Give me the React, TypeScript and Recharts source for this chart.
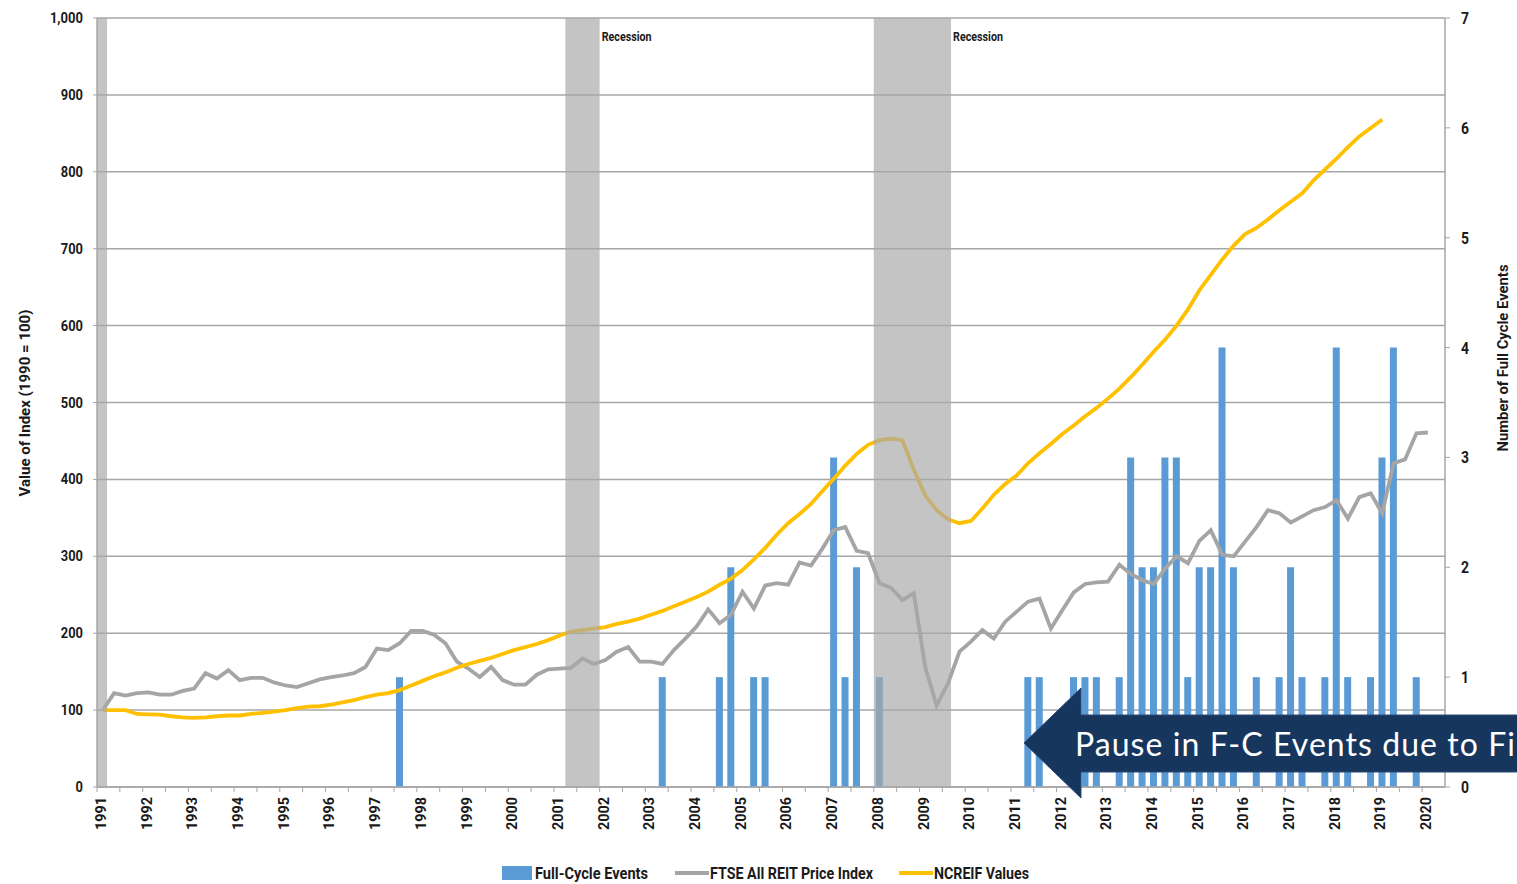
import React from 'react';
import {
  ComposedChart,
  Bar,
  Line,
  XAxis,
  YAxis,
  CartesianGrid,
  ReferenceArea,
} from 'recharts';

// quarterly series, index 0 = 1991 Q1
const FIRST_YEAR = 1991;
const QUARTER_SLOTS = 118;

const ftseValues = [
  100, 122, 119, 122, 123, 120, 120, 125, 128, 148, 141, 152, 139, 142, 142, 136,
  132, 130, 135, 140, 143, 145, 148, 156, 180, 178, 187, 203, 203, 198, 187, 163,
  154, 143, 156, 139, 133, 133, 146, 153, 154, 155, 167, 160, 165, 176, 182, 163,
  163, 160, 178, 193, 209, 231, 213, 224, 254, 232, 262, 265, 263, 292, 288, 310,
  334, 338, 307, 304, 265, 259, 243, 252, 156, 106, 135, 176, 189, 204, 193, 215,
  228, 241, 245, 206, 230, 253, 264, 266, 267, 289, 277, 269, 264, 284, 300, 291,
  320, 334, 302, 300, 319, 338, 360, 356, 344, 352, 360, 364, 373, 349, 377, 382,
  356, 421, 426, 460, 461,
];

const ncreifValues = [
  100, 100, 100, 95, 94.5, 94, 92, 90.5, 90, 90.5, 92, 93, 93, 95, 96.5, 98,
  100, 102.5, 104.5, 105, 107, 110, 113, 117, 120, 122, 126, 132, 138, 144, 149, 155,
  160, 164, 168, 173, 178, 182, 186, 191, 197, 202, 204, 206, 208, 212, 215, 219,
  224, 229, 235, 241, 247, 254, 263, 271, 282, 296, 311, 328, 343, 355, 368, 385,
  401, 418, 433, 445, 451, 453, 451, 413, 379, 360, 348, 343, 346, 362, 380, 394,
  405, 421, 434, 446, 459, 470, 482, 493, 505, 518, 533, 549, 566, 582, 600, 621,
  646, 666, 686, 704, 719, 727, 738, 750, 761, 772, 789, 803, 817, 832, 846, 857,
  868,
];

const eventQuarters = [
  '1997 Q3', '2003 Q2', '2004 Q3', '2004 Q4', '2005 Q2', '2005 Q3', '2007 Q1', '2007 Q2',
  '2007 Q3', '2008 Q1', '2011 Q2', '2011 Q3', '2012 Q2', '2012 Q3', '2012 Q4', '2013 Q2',
  '2013 Q3', '2013 Q4', '2014 Q1', '2014 Q2', '2014 Q3', '2014 Q4', '2015 Q1', '2015 Q2',
  '2015 Q3', '2015 Q4', '2016 Q2', '2016 Q4', '2017 Q1', '2017 Q2', '2017 Q4', '2018 Q1',
  '2018 Q2', '2018 Q4', '2019 Q1', '2019 Q2', '2019 Q4',
];
const eventCounts = [
  1, 1, 1, 2, 1, 1, 3, 1,
  2, 1, 1, 1, 1, 1, 1, 1,
  3, 2, 2, 3, 3, 1, 2, 2,
  4, 2, 1, 1, 2, 1, 1, 4,
  1, 1, 3, 4, 1,
];

// recessions as decimal years
const recessionStarts = [1991.0, 2001.25, 2008.0];
const recessionEnds = [1991.22, 2002.0, 2009.69];
const recessionLabels = ['', 'Recession', 'Recession'];

const leftTicks = [0, 100, 200, 300, 400, 500, 600, 700, 800, 900, 1000];
const rightTicks = [0, 1, 2, 3, 4, 5, 6, 7];

const quarterIndex = (q: string) => {
  const [y, qq] = q.split(' Q');
  return (Number(y) - FIRST_YEAR) * 4 + Number(qq) - 1;
};

const chartData = Array.from({ length: QUARTER_SLOTS }, (_, i) => {
  const k = eventQuarters.findIndex((q) => quarterIndex(q) === i);
  return {
    x: i + 0.5,
    ftse: i < ftseValues.length ? ftseValues[i] : null,
    ncreif: i < ncreifValues.length ? ncreifValues[i] : null,
    events: k >= 0 ? eventCounts[k] : null,
  };
});

const xTicks = Array.from({ length: 59 }, (_, i) => i * 2);

// no condensed face installed, so squeeze a regular one with textLength
const NARROW = "Roboto, 'Noto Sans', sans-serif";
const GRID = '#a6a6a6';
const INK = '#1a1a1a';

const Squeezed = ({ len, children, ...rest }: any) => (
  <text
    fontFamily={NARROW}
    fontWeight="bold"
    fill={INK}
    textLength={len}
    lengthAdjust="spacingAndGlyphs"
    {...rest}
  >
    {children}
  </text>
);

const YearTick = (props: any) => {
  const { x, y, payload } = props;
  if (payload.value % 4 !== 0) return null;
  return (
    <Squeezed
      len={33}
      transform={`translate(${x + 9}, ${y + 3}) rotate(-90)`}
      textAnchor="end"
      fontSize={14}
    >
      {FIRST_YEAR + payload.value / 4}
    </Squeezed>
  );
};

const LeftTick = (props: any) => {
  const { x, y, payload } = props;
  const label = Number(payload.value).toLocaleString('en-US');
  const digits = label.replace(/,/g, '').length;
  const commas = label.length - digits;
  return (
    <Squeezed
      len={digits * 7.4 + commas * 3.5}
      x={x - 1}
      y={y + 5}
      textAnchor="end"
      fontSize={15}
    >
      {label}
    </Squeezed>
  );
};

const RightTick = (props: any) => {
  const { x, y, payload } = props;
  return (
    <Squeezed len={8} x={x + 1} y={y + 6} fontSize={16}>
      {payload.value}
    </Squeezed>
  );
};

const RecessionLabel = ({ viewBox, text }: any) => {
  if (!viewBox || !text) return null;
  return (
    <Squeezed len={50} x={viewBox.x + viewBox.width + 2} y={viewBox.y + 23} fontSize={13}>
      {text}
    </Squeezed>
  );
};

const LeftTitle = () => (
  <Squeezed len={187} transform="translate(30, 403) rotate(-90)" textAnchor="middle" fontSize={15}>
    Value of Index (1990 = 100)
  </Squeezed>
);

const RightTitle = () => (
  <Squeezed len={187} transform="translate(1508, 358) rotate(-90)" textAnchor="middle" fontSize={15}>
    Number of Full Cycle Events
  </Squeezed>
);

export default function App() {
  return (
    <div
      style={{
        position: 'absolute',
        left: 0,
        top: 0,
        width: 1517,
        height: 884,
        overflow: 'hidden',
        background: '#fff',
      }}
    >
      <ComposedChart
        width={1517}
        height={884}
        data={chartData}
        margin={{ top: 18, right: 0, bottom: 0, left: 0 }}
      >
        <CartesianGrid yAxisId="left" vertical={false} stroke={GRID} strokeWidth={1.5} />
        <XAxis
          type="number"
          dataKey="x"
          domain={[0, QUARTER_SLOTS]}
          ticks={xTicks}
          interval={0}
          height={97}
          tick={<YearTick />}
          tickSize={5}
          stroke={GRID}
          axisLine={{ stroke: GRID, strokeWidth: 1.5 }}
        />
        <YAxis
          yAxisId="left"
          width={97}
          domain={[0, 1000]}
          ticks={leftTicks}
          interval={0}
          tickSize={4}
          tickMargin={9}
          stroke={GRID}
          axisLine={{ stroke: GRID, strokeWidth: 1.5 }}
          tick={<LeftTick />}
          label={<LeftTitle />}
        />
        <YAxis
          yAxisId="right"
          orientation="right"
          width={72}
          domain={[0, 7]}
          ticks={rightTicks}
          interval={0}
          tickSize={5}
          tickMargin={10}
          stroke={GRID}
          axisLine={{ stroke: GRID, strokeWidth: 1.5 }}
          tick={<RightTick />}
          label={<RightTitle />}
        />
        <Bar
          yAxisId="right"
          dataKey="events"
          name="Full-Cycle Events"
          fill="#5b9bd5"
          barSize={7}
          isAnimationActive={false}
        />
        <Line
          yAxisId="left"
          dataKey="ftse"
          name="FTSE All REIT Price Index"
          stroke="#a5a5a5"
          strokeWidth={3.8}
          dot={false}
          activeDot={false}
          isAnimationActive={false}
        />
        <Line
          yAxisId="left"
          dataKey="ncreif"
          name="NCREIF Values"
          stroke="#ffc000"
          strokeWidth={3.8}
          dot={false}
          activeDot={false}
          isAnimationActive={false}
        />
        {recessionStarts.map((s, k) => (
          <ReferenceArea
            key={k}
            yAxisId="left"
            x1={(s - FIRST_YEAR) * 4}
            x2={(recessionEnds[k] - FIRST_YEAR) * 4}
            y1={0}
            y2={1000}
            fill="#a8a8a8"
            fillOpacity={0.68}
            stroke="none"
            zIndex={1000}
            label={<RecessionLabel text={recessionLabels[k]} />}
          />
        ))}
      </ComposedChart>

      {/* legend and callout arrow */}
      <svg
        width={1517}
        height={884}
        style={{ position: 'absolute', left: 0, top: 0, pointerEvents: 'none' }}
      >
        <rect x={502} y={866} width={30} height={14} fill="#5b9bd5" />
        <Squeezed len={113} x={535} y={879} fontSize={16}>Full-Cycle Events</Squeezed>
        <rect x={675} y={871} width={34} height={4} fill="#a5a5a5" />
        <Squeezed len={163} x={710} y={879} fontSize={16}>FTSE All REIT Price Index</Squeezed>
        <rect x={899} y={871} width={34} height={4} fill="#ffc000" />
        <Squeezed len={95} x={934} y={879} fontSize={16}>NCREIF Values</Squeezed>

        <polygon
          points="1024,743 1081,688 1081,715 1530,715 1530,772 1081,772 1081,798"
          fill="#17365d"
          stroke="#2b4a78"
          strokeWidth={1}
        />
        <text
          x={1075}
          y={756}
          fill="#fff"
          fontFamily="Lato, 'Open Sans', sans-serif"
          fontSize={32}
          textLength={440}
          lengthAdjust="spacing"
        >
          Pause in F-C Events due to Fi
        </text>
      </svg>
    </div>
  );
}
